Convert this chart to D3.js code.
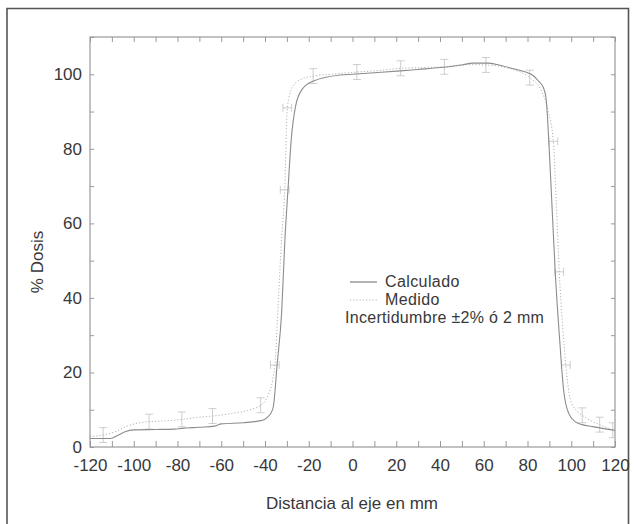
<!DOCTYPE html>
<html>
<head>
<meta charset="utf-8">
<script src="https://cdn.jsdelivr.net/npm/d3@7"></script>
<style>
  html, body { margin: 0; padding: 0; background: #fff; }
  svg { display: block; }
  text { font-family: "Liberation Sans", Arial, Helvetica, sans-serif; fill: #383838; }
</style>
</head>
<body>
<svg id="chart" width="634" height="524"></svg>
<script>
// Dose profile: calculated vs. measured, distance to beam axis (mm)
const calcX = [-120, -110.5, -107, -104, -100, -90, -81.5, -78, -70, -63, -60, -50, -45, -40.5, -38.5, -37.4, -36.2,
  -34.4, -32.4, -30.9, -29.5, -28, -26, -23, -17.8, -5.5, 0, 10, 22, 30, 40, 50, 55, 61.5, 67, 73.5, 78, 82.7,
  85, 87.2, 88.5, 89.7, 91.2, 92.7, 94.7, 96.5, 98.8, 101.8, 105, 109.4, 118.6, 120];
const calcY = [2.3, 2.3, 3.2, 4.1, 4.6, 4.7, 4.8, 5.0, 5.3, 5.6, 6.2, 6.5, 6.8, 7.3, 8.2, 9.0, 10.8,
  22.5, 36, 55.6, 69, 82.5, 91.5, 96, 98.2, 99.8, 100.0, 100.4, 100.9, 101.3, 101.8, 102.5, 103, 103, 102.5, 101.5, 100.8, 99.6,
  98.2, 96.5, 93.5, 82.5, 64.6, 46.7, 28.8, 15.3, 9.1, 6.8, 6.0, 5.5, 4.6, 4.5];

const measX = [-120, -114, -108, -103, -93, -85, -78, -70, -64, -55, -48, -42, -38.5, -36.5, -35.5, -34, -32.5, -31,
  -29.8, -27.5, -24, -18, -10, 2, 12, 22, 32, 42, 52, 61, 70, 81, 86, 89.5, 91.8, 93.2, 94.5, 96, 97.5, 99.5,
  102, 105, 109, 113, 119, 120];
const measY = [2.8, 3.2, 4.2, 5.6, 6.8, 7.0, 7.4, 8.0, 8.3, 9.0, 9.8, 11.2, 14, 18, 22, 38, 55, 69,
  91, 96.5, 98.5, 99.5, 100, 100.6, 101, 101.6, 101.8, 102, 102.6, 102.5, 101.8, 99.1, 96, 90, 82, 65, 47, 33, 22, 13,
  10, 8.5, 7, 6, 4.5, 4.3];

// Uncertainty: ±2 % of dose on flat regions, ±2 mm on the penumbra
const errDose = 2;
const errDist = 2;
const vBarX = [-114, -93, -78, -64, -42, -18, 2, 22, 42, 61, 81, 105, 113, 119];
const vBarY = [3.2, 6.8, 7.4, 8.3, 11.2, 99.5, 100.6, 101.6, 102, 102.5, 99.1, 8.5, 6, 4.5];
const hBarX = [-35.5, -31, -29.8, 91.8, 94.5, 97.5];
const hBarY = [22, 69, 91, 82, 47, 22];

const xTicks = d3.range(-120, 121, 10);
const xLabels = d3.range(-120, 121, 20);
const yTicks = d3.range(0, 111, 10);
const yLabels = d3.range(0, 101, 20);

const legendNames = ["Calculado", "Medido"];
const noteText = "Incertidumbre ±2% ó 2 mm";
const xTitle = "Distancia al eje en mm";
const yTitle = "% Dosis";

const svg = d3.select("#chart");
const L = 90, R = 615, T = 37, B = 447;
const x = d3.scaleLinear().domain([-120, 120]).range([L, R]);
const y = d3.scaleLinear().domain([0, 110]).range([B, T]);

const axisCol = "#9a9a9a";
const lineCol = "#8c8c8c";
const measCol = "#a8a8a8";

// outer page frame
svg.append("path")
  .attr("d", "M7,524 V8.5 H628.5 V524")
  .attr("fill", "none").attr("stroke", "#555").attr("stroke-width", 1.6);

svg.append("defs").append("clipPath").attr("id", "plotclip")
  .append("rect").attr("x", L).attr("y", T).attr("width", R - L).attr("height", B - T);

// axes with inward ticks on all sides
function styleAxis(g) {
  g.select(".domain").remove();
  g.selectAll(".tick line").attr("stroke", axisCol).attr("stroke-width", 1);
  g.selectAll(".tick text").attr("font-size", 17).attr("fill", "#383838")
    .attr("font-family", '"Liberation Sans", Arial, sans-serif');
}
const fmt = d => (xLabels.includes(d) ? String(d) : "");
const fmtY = d => (yLabels.includes(d) ? String(d) : "");

svg.append("g").attr("transform", `translate(0,${B})`)
  .call(d3.axisBottom(x).tickValues(xTicks).tickFormat(fmt).tickSizeInner(-6).tickSizeOuter(0).tickPadding(12))
  .call(styleAxis);
svg.append("g").attr("transform", `translate(0,${T})`)
  .call(d3.axisTop(x).tickValues(xTicks).tickFormat("").tickSizeInner(-5).tickSizeOuter(0))
  .call(styleAxis);
svg.append("g").attr("transform", `translate(${L},0)`)
  .call(d3.axisLeft(y).tickValues(yTicks).tickFormat(fmtY).tickSizeInner(-4).tickSizeOuter(0).tickPadding(8))
  .call(styleAxis);
svg.append("g").attr("transform", `translate(${R},0)`)
  .call(d3.axisRight(y).tickValues(yTicks).tickFormat("").tickSizeInner(-4).tickSizeOuter(0))
  .call(styleAxis);

svg.append("rect").attr("x", L).attr("y", T).attr("width", R - L).attr("height", B - T)
  .attr("fill", "none").attr("stroke", axisCol).attr("stroke-width", 1.2);

const plot = svg.append("g").attr("clip-path", "url(#plotclip)");

// error bars
const barCol = "#c2c2c2", cap = 4;
const vBars = plot.append("g").attr("stroke", barCol).attr("stroke-width", 0.8).attr("fill", "none");
vBarX.forEach((vx, i) => {
  const cx = x(vx), y0 = y(vBarY[i] - errDose), y1 = y(vBarY[i] + errDose);
  vBars.append("path").attr("d", `M${cx},${y0}V${y1}M${cx - cap},${y0}H${cx + cap}M${cx - cap},${y1}H${cx + cap}`);
});
const hBars = plot.append("g").attr("stroke", barCol).attr("stroke-width", 0.8).attr("fill", "none");
hBarX.forEach((hx, i) => {
  const cy = y(hBarY[i]), x0 = x(hx - errDist), x1 = x(hx + errDist);
  hBars.append("path").attr("d", `M${x0},${cy}H${x1}M${x0},${cy - cap}V${cy + cap}M${x1},${cy - cap}V${cy + cap}`);
});

// measured profile (dotted)
const line = d3.line().x(d => x(d[0])).y(d => y(d[1])).curve(d3.curveMonotoneX);
plot.append("path").datum(d3.zip(measX, measY))
  .attr("d", line).attr("fill", "none")
  .attr("stroke", measCol).attr("stroke-width", 0.9).attr("stroke-dasharray", "1.2,2");

// calculated profile (solid)
plot.append("path").datum(d3.zip(calcX, calcY))
  .attr("d", line).attr("fill", "none")
  .attr("stroke", lineCol).attr("stroke-width", 1.1);

// legend
const lg = svg.append("g");
lg.append("line").attr("x1", 350).attr("x2", 377).attr("y1", 282).attr("y2", 282)
  .attr("stroke", "#666").attr("stroke-width", 1);
lg.append("text").attr("x", 385).attr("y", 287).attr("font-size", 16).attr("letter-spacing", 0.4).text(legendNames[0]);
lg.append("line").attr("x1", 350).attr("x2", 377).attr("y1", 300).attr("y2", 300)
  .attr("stroke", measCol).attr("stroke-width", 0.9).attr("stroke-dasharray", "1.2,2");
lg.append("text").attr("x", 385).attr("y", 305).attr("font-size", 16).attr("letter-spacing", 0.4).text(legendNames[1]);
lg.append("text").attr("x", 345).attr("y", 323).attr("font-size", 16).attr("letter-spacing", 0.3).text(noteText);

// axis titles
svg.append("text").attr("x", 352).attr("y", 509).attr("text-anchor", "middle")
  .attr("font-size", 17).text(xTitle);
svg.append("text").attr("transform", "translate(43,262) rotate(-90)").attr("text-anchor", "middle")
  .attr("font-size", 17).text(yTitle);
</script>
</body>
</html>
